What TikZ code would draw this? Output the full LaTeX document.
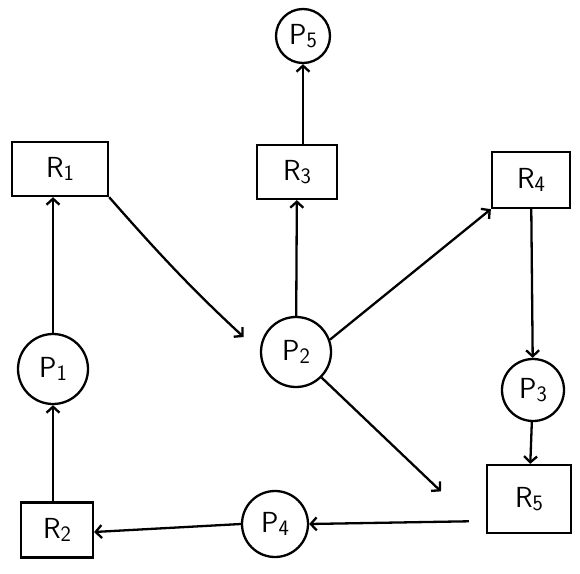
\documentclass[tikz,border=0pt]{standalone}
\usetikzlibrary{arrows.meta}
% label with a slightly lowered, smaller index
\newcommand{\lab}[2]{#1\raisebox{-0.25ex}{\fontsize{22}{22}\selectfont #2}}
\begin{document}
\begin{tikzpicture}[x=1pt,y=-1pt,
  line width=2.3pt,
  lbl/.style={font=\sffamily\fontsize{29}{30}\selectfont},
  res/.style={lbl,draw,rectangle,inner sep=0pt},
  proc/.style={lbl,draw,circle,inner sep=0pt},
  edge/.style={-{Straight Barb[length=6pt,width=13pt]}}]
  % canvas
  \fill[white] (0,0) rectangle (580,573);
  \useasboundingbox (0,0) rectangle (580,573);

  % resources
  \node[res,minimum width=96pt,minimum height=54pt] (R1) at (60,169) {\lab{R}{1}};
  \node[res,minimum width=80pt,minimum height=54pt] (R3) at (297,172) {\lab{R}{3}};
  \node[res,minimum width=78pt,minimum height=56pt] (R4) at (531,180) {\lab{R}{4}};
  \node[res,minimum width=84pt,minimum height=68pt] (R5) at (529,499) {\lab{R}{5}};
  \node[res,minimum width=72pt,minimum height=55pt] (R2) at (57,530) {\lab{R}{2}};

  % processes
  \node[proc,minimum size=54pt] (P5) at (303,36) {\lab{P}{5}};
  \node[proc,minimum size=70pt] (P1) at (53,369) {\lab{P}{1}};
  \node[proc,minimum size=70pt] (P2) at (296,352) {\lab{P}{2}};
  \node[proc,minimum size=62pt] (P3) at (533,390) {\lab{P}{3}};
  \node[proc,minimum size=66pt] (P4) at (275,524) {\lab{P}{4}};

  % edges
  \draw[edge] (P5.south |- R3.north) -- (P5.south);
  \draw[edge] (P2) -- (R3);
  \draw[edge] (P2.20) -- (R4.south west);
  \draw[edge] (R4) -- (P3);
  \draw[edge] (P3) -- (R5);
  \draw[edge,shorten >=22pt] (R1.south east) to[bend right=3] (P2.west);
  \draw[edge,shorten >=62pt] (P2.-45) -- (R5.south west);
  \draw[edge,shorten <=17pt] ([yshift=-22pt]R5.west) -- (P4.east);
  \draw[edge] (P4.west) -- ([yshift=-2pt]R2.east);
  \draw[edge] (R2.north -| P1.south) -- (P1.south);
  \draw[edge] (P1.north) -- (P1.north |- R1.south);
\end{tikzpicture}
\end{document}
